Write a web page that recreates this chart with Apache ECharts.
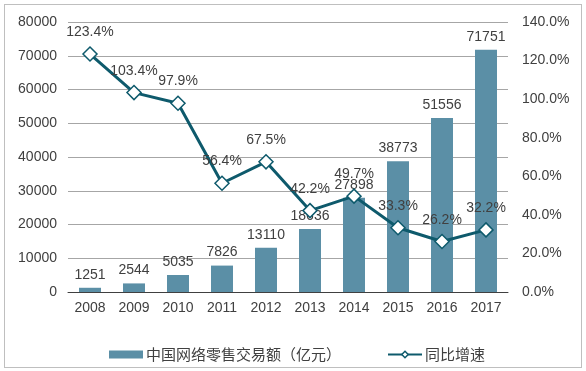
<!DOCTYPE html>
<html><head><meta charset="utf-8">
<script src="https://cdn.jsdelivr.net/npm/echarts@6/dist/echarts.min.js"></script>
<style>html,body{margin:0;padding:0;background:#fff}#c{width:586px;height:371px}
#frame{position:absolute;left:4px;top:4px;width:578px;height:364px;border:1px solid #bfbfbf;box-sizing:border-box;pointer-events:none}</style>
</head><body><div id="c"></div><div id="frame"></div>
<script>
const years = ['2008','2009','2010','2011','2012','2013','2014','2015','2016','2017'];
const retail = [1251,2544,5035,7826,13110,18636,27898,38773,51556,71751];
const growth = [123.4,103.4,97.9,56.4,67.5,42.2,49.7,33.3,26.2,32.2];
const barName = '中国网络零售交易额（亿元）';
const lineName = '同比增速';
const txt = '#404040';
const lineColor = '#0e5a6c';
const font = 'Liberation Sans, Arial, Noto Sans CJK SC, sans-serif';
const chart = echarts.init(document.getElementById('c'));
chart.setOption({
  animation:false,
  textStyle:{fontFamily:font},
  grid:{left:68,right:78,top:22,bottom:79},
  legend:{top:342,left:104,itemGap:46,itemWidth:34,itemHeight:8,
    textStyle:{color:txt,fontSize:15,fontFamily:'Noto Sans CJK SC, sans-serif',padding:[0,0,0,-2]},
    data:[{name:barName,icon:'rect'},
          {name:lineName,itemStyle:{color:'#fff',borderColor:lineColor,borderWidth:1.5}}]},
  xAxis:{type:'category',data:years,axisTick:{show:false},
    axisLine:{lineStyle:{color:'#404040',width:1}},
    axisLabel:{color:txt,fontSize:14,margin:9}},
  yAxis:[{type:'value',min:0,max:80000,interval:10000,
    axisLabel:{color:txt,fontSize:14,margin:11,formatter:v=>String(v)},
    splitLine:{lineStyle:{color:'#a6a6a6',width:1}},axisLine:{show:false},axisTick:{show:false}},
   {type:'value',min:0,max:140,interval:20,position:'right',
    axisLabel:{color:txt,fontSize:14,margin:14,formatter:v=>v.toFixed(1)+'%'},
    splitLine:{show:false},axisLine:{show:false},axisTick:{show:false}}],
  series:[
   {name:barName,type:'bar',data:retail,barWidth:'50%',itemStyle:{color:'#5b8fa6'},
    label:{show:true,position:'top',color:txt,fontSize:14,distance:6}},
   {name:lineName,type:'line',yAxisIndex:1,data:growth,symbol:'diamond',symbolSize:14,
    lineStyle:{color:lineColor,width:3},
    itemStyle:{color:'#fff',borderColor:lineColor,borderWidth:1.5},
    label:{show:true,position:'top',color:txt,fontSize:14,distance:7,formatter:p=>p.value.toFixed(1)+'%'}}
  ]
});
</script></body></html>
